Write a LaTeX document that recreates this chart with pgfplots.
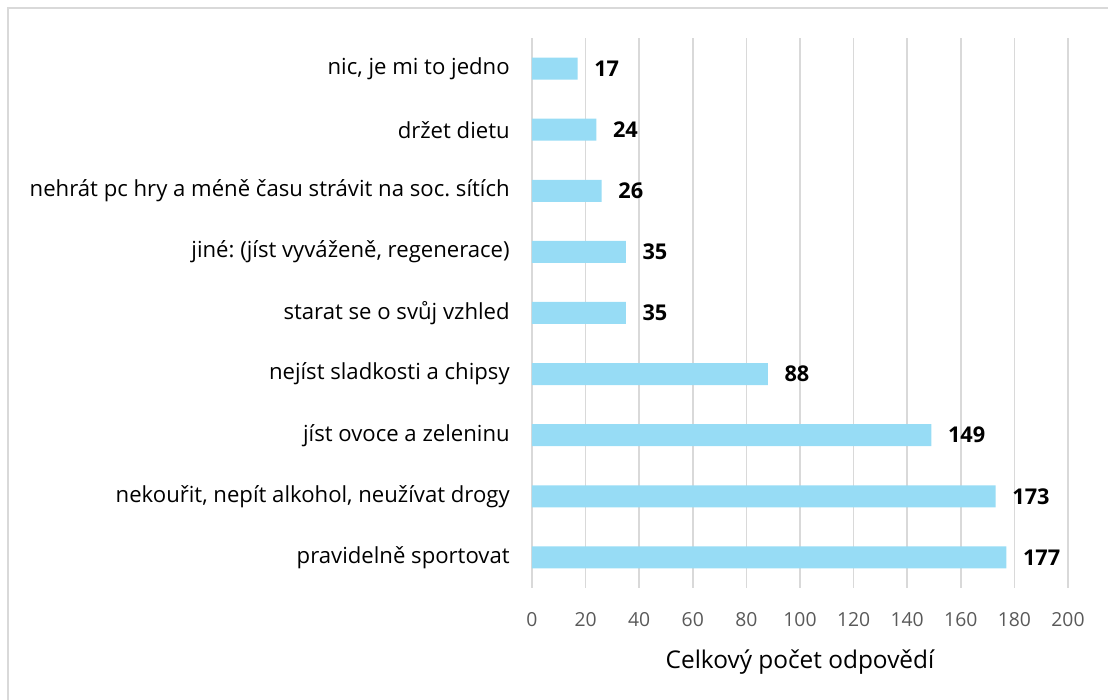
\documentclass[border=0pt]{standalone}
\usepackage{fontspec}
\setmainfont{Open Sans}
\usepackage{pgfplots}
\pgfplotsset{compat=1.18}
\definecolor{barblue}{RGB}{151,220,245}
\definecolor{gridgray}{RGB}{217,217,217}
\definecolor{tickgray}{RGB}{89,89,89}
\frenchspacing
\begin{document}
\frenchspacing
\begin{tikzpicture}[x=0.75pt,y=0.75pt]
\path[use as bounding box] (0,0) rectangle (1108,700);
\draw[gridgray,line width=1.5pt] (8,0) -- (8,692) -- (1108,692);
\begin{axis}[
  at={(399pt,84pt)}, anchor=south west,
  scale only axis, width=402pt, height=412.5pt,
  xbar, bar width=16.5pt,
  xmin=0, xmax=200, ymin=-0.5, ymax=8.5,
  xtick={0,20,...,200},
  ytick={0,...,8},
  yticklabels={pravidelně sportovat, {nekouřit, nepít alkohol, neužívat drogy}, jíst ovoce a zeleninu, nejíst sladkosti a chipsy, starat se o svůj vzhled, {jiné: (jíst vyváženě, regenerace)}, nehrát pc hry a méně času strávit na soc.\ sítích, držet dietu, {nic, je mi to jedno}},
  axis line style={draw=none},
  major tick length=0pt,
  xmajorgrids, grid style={gridgray, line width=1.1pt},
  /pgf/number format/assume math mode=true,
  xticklabel style={font=\fontsize{14.5}{16}\selectfont, text=tickgray, anchor=center, yshift=-24pt},
  yticklabel style={font=\fontsize{16.6}{18}\selectfont, text=black, anchor=east, xshift=-13.2pt},
  xlabel={Celkový počet odpovědí},
  xlabel style={font=\fontsize{18.3}{20}\selectfont, at={(axis description cs:0.5,0)}, anchor=center, yshift=-55.5pt},
  nodes near coords,
  nodes near coords style={font=\fontsize{16.3}{18}\selectfont\bfseries, anchor=west, xshift=9pt, text=black},
]
\addplot[fill=barblue, draw=none] coordinates {
(177,0) (173,1) (149,2) (88,3) (35,4) (35,5) (26,6) (24,7) (17,8)
};
\end{axis}
\end{tikzpicture}
\end{document}
